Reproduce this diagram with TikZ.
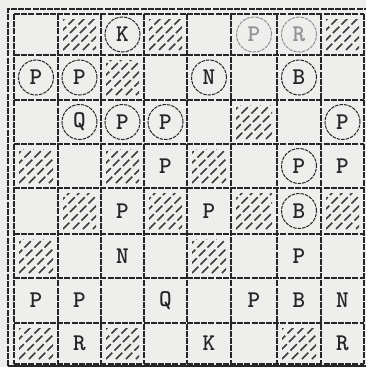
\documentclass[tikz,border=0pt]{standalone}
\usepackage{fontspec}
\definecolor{paper}{HTML}{EEEEEC}
\definecolor{ink}{HTML}{262626}
\tikzset{
  gridline/.style={ink, line width=1.2pt, dash pattern=on 6pt off 1.2pt},
  hatchline/.style={ink!90, line width=1.5pt, dash pattern=on 9pt off 3pt},
  piece/.style={font=\ttfamily\bfseries\fontsize{24}{24}\selectfont, text=ink, inner sep=0pt},
  plainpc/.style={piece},
  ringed/.style={piece, circle, draw=ink, line width=1pt, dash pattern=on 3.5pt off 1pt, minimum size=35pt},
  ringedfaint/.style={ringed, draw=ink!50, text=ink!50},
}
\begin{document}
\begin{tikzpicture}[x=1pt,y=-1pt]
\fill[paper] (0,0) rectangle (366,367);
\useasboundingbox (0,0) rectangle (366,367);
\def\XS{{14,58,101,144,187,231,277,321,364}}
\def\YS{{14,55,100,144,188,234,278,323,364}}
% hatched dark squares
\foreach \r/\c in {1/2,1/4,1/8,2/3,3/6,4/1,4/3,4/5,5/2,5/4,5/6,5/8,6/1,6/5,8/1,8/3,8/7}{
  \pgfmathsetmacro\xa{\XS[\c-1]+5}
  \pgfmathsetmacro\xb{\XS[\c]-5}
  \pgfmathsetmacro\ya{\YS[\r-1]+5}
  \pgfmathsetmacro\yb{\YS[\r]-5}
  \begin{scope}
    \clip (\xa,\ya) rectangle (\xb,\yb);
    \foreach \k in {-40,-30,...,40}{
      \draw[hatchline] (\xa+\k,\yb) -- ++(50,-50);
    }
  \end{scope}
}
% grid
\foreach \i in {0,...,8}{
  \pgfmathsetmacro\gx{\XS[\i]}
  \draw[gridline] (\gx,14) -- (\gx,364);
  \pgfmathsetmacro\gy{\YS[\i]}
  \draw[gridline] (14,\gy) -- (364,\gy);
}
% outer frame
\draw[gridline] (8,366) -- (8,9) -- (366,9);
\draw[ink, line width=2pt] (8,365.5) -- (366,365.5);
% pieces
\foreach \r/\c/\L/\s in {1/3/K/ringed, 1/6/P/ringedfaint, 1/7/R/ringedfaint, 2/1/P/ringed, 2/2/P/ringed, 2/5/N/ringed, 2/7/B/ringed, 3/2/Q/ringed, 3/3/P/ringed, 3/4/P/ringed, 3/8/P/ringed, 4/4/P/plainpc, 4/7/P/ringed, 4/8/P/plainpc, 5/3/P/plainpc, 5/5/P/plainpc, 5/7/B/ringed, 6/3/N/plainpc, 6/7/P/plainpc, 7/1/P/plainpc, 7/2/P/plainpc, 7/4/Q/plainpc, 7/6/P/plainpc, 7/7/B/plainpc, 7/8/N/plainpc, 8/2/R/plainpc, 8/5/K/plainpc, 8/8/R/plainpc}{
  \pgfmathsetmacro\xa{\XS[\c-1]}
  \pgfmathsetmacro\xb{\XS[\c]}
  \pgfmathsetmacro\ya{\YS[\r-1]}
  \pgfmathsetmacro\yb{\YS[\r]}
  \pgfmathsetmacro\cx{(\xa+\xb)/2}
  \pgfmathsetmacro\cy{(\ya+\yb)/2}
  \node[\s] (sq\r\c) at (\cx,\cy) {\L};
}
\end{tikzpicture}
\end{document}
